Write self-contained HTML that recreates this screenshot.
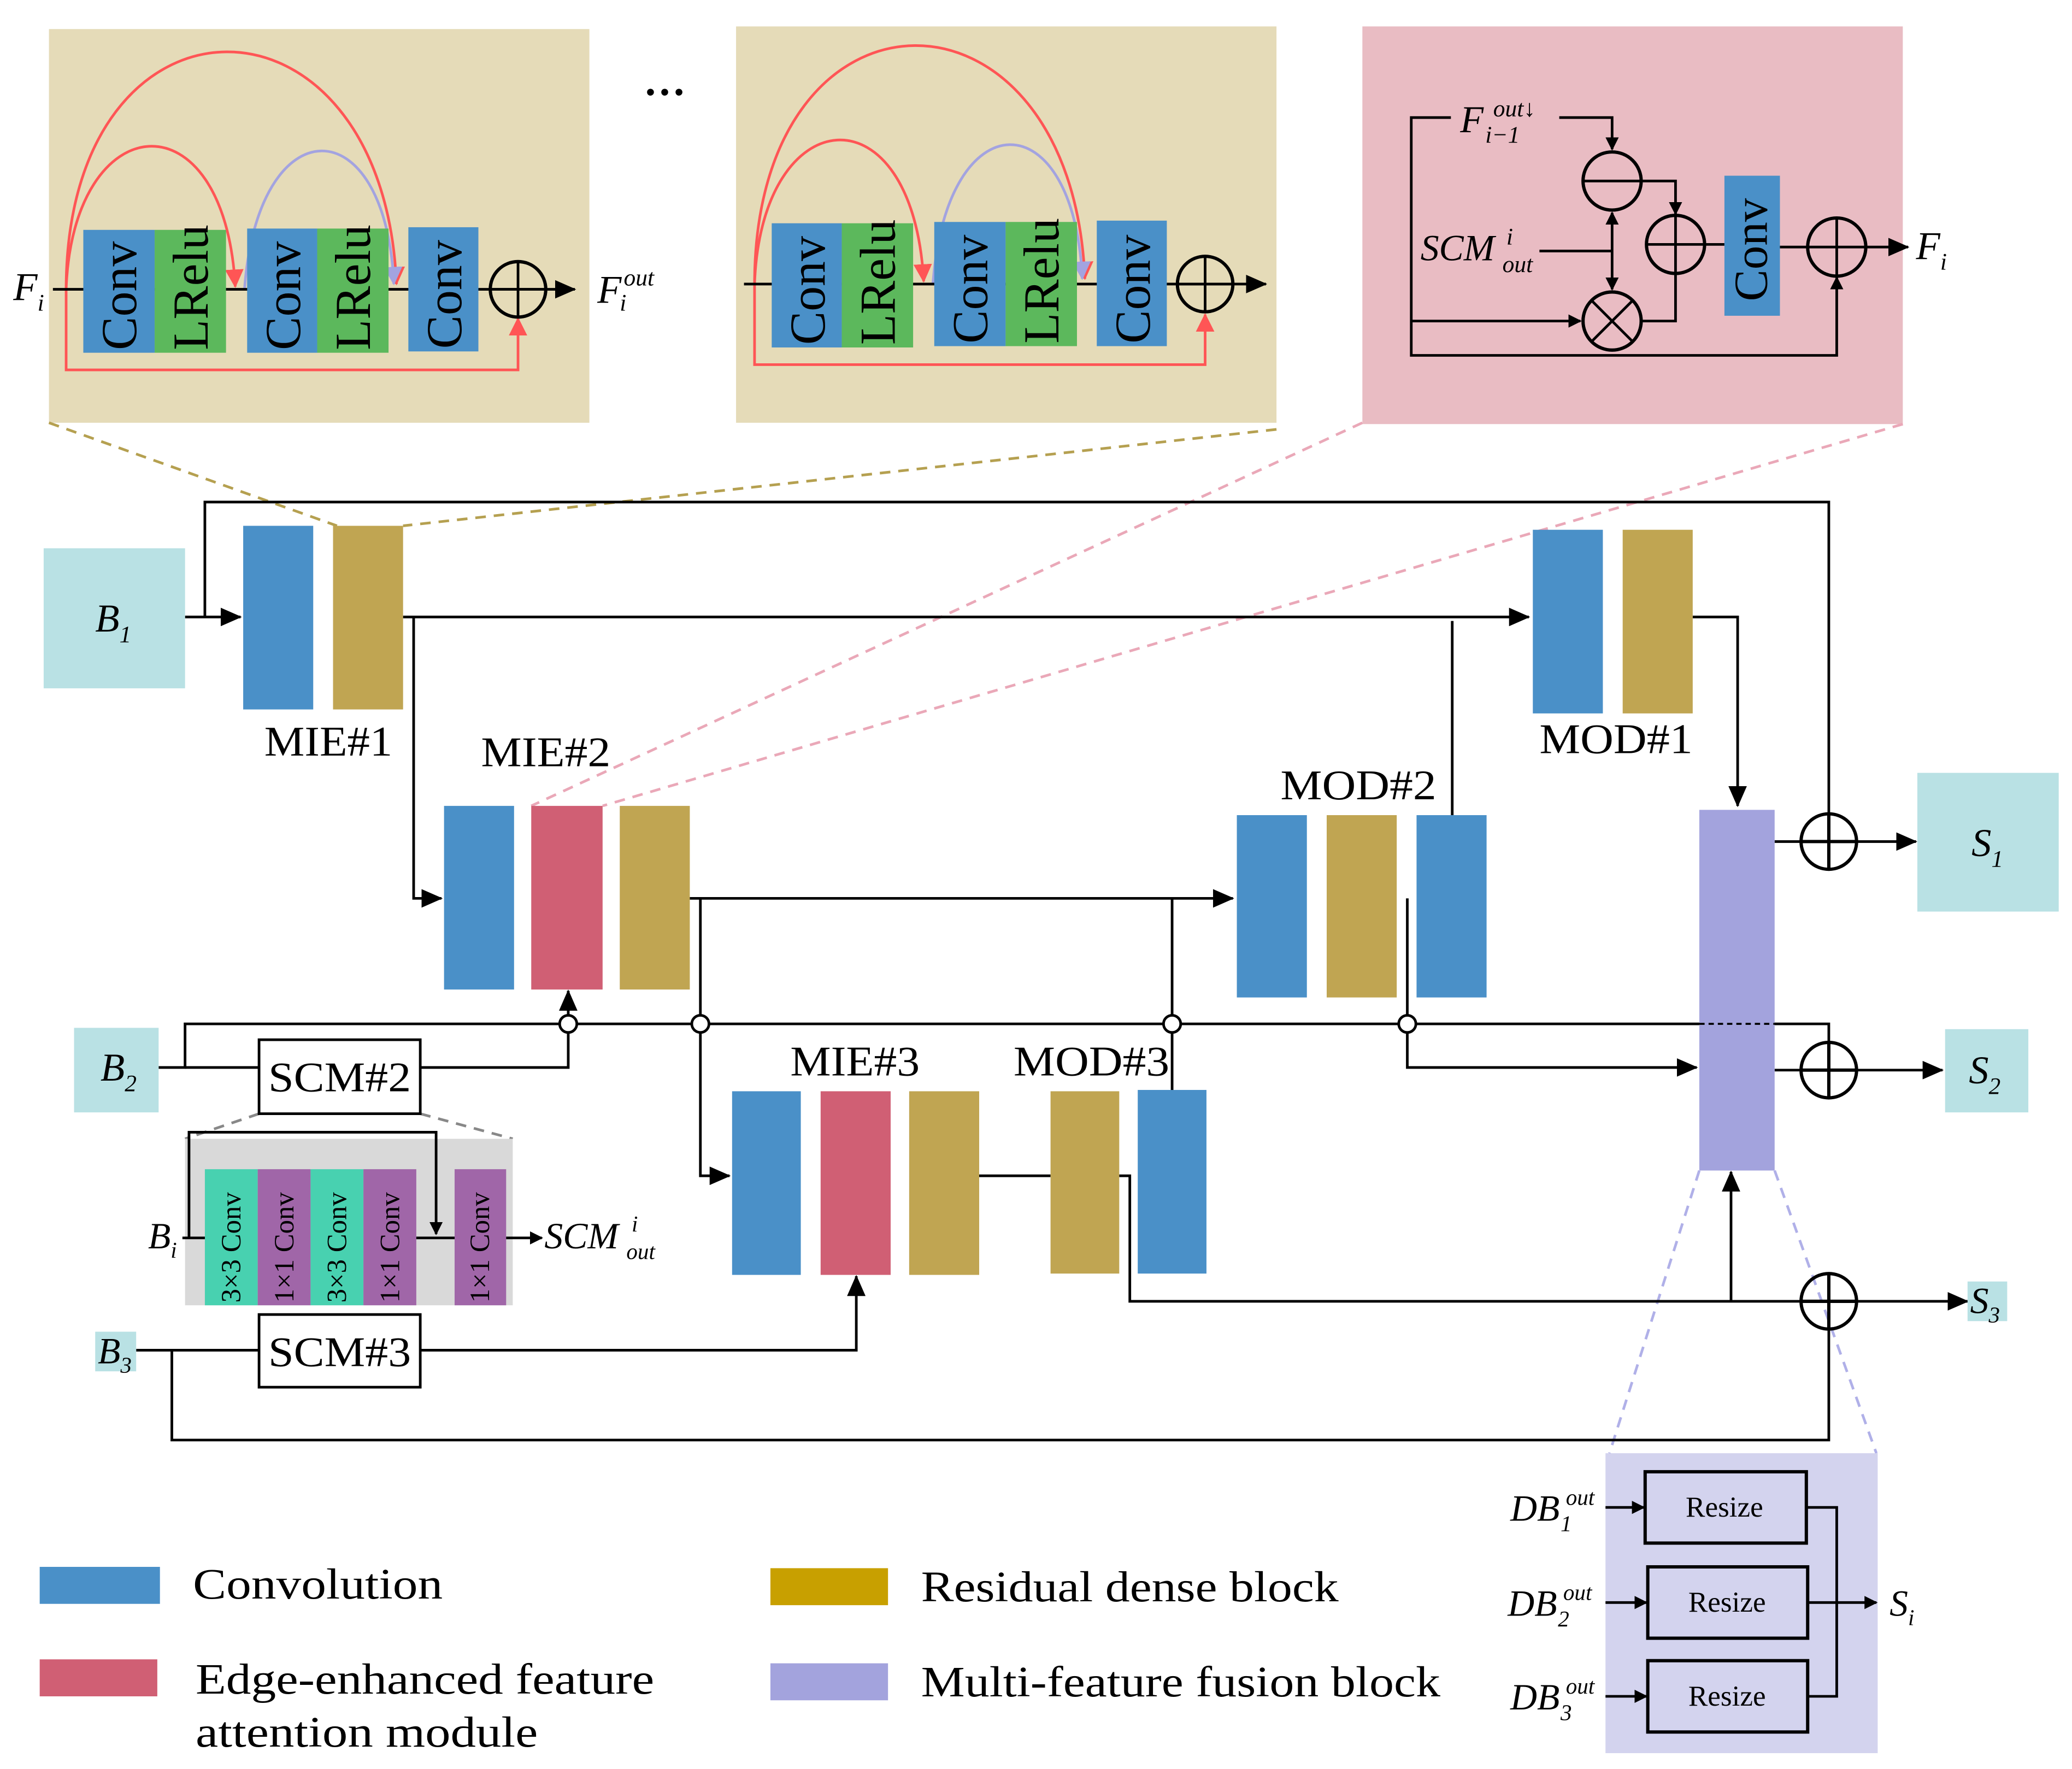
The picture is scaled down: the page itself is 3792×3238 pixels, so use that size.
<!DOCTYPE html>
<html><head><meta charset="utf-8"><style>
html,body{margin:0;padding:0;background:#fff}
svg{display:block}
text{font-family:"Liberation Serif",serif}
</style></head><body>
<svg width="3792" height="3238" viewBox="0 0 1568 1339" xmlns="http://www.w3.org/2000/svg">
<defs>
<marker id="a" markerWidth="10" markerHeight="10" refX="9" refY="5" orient="auto" markerUnits="userSpaceOnUse"><path d="M0,0L10,5L0,10z" fill="#000"/></marker>
<marker id="ab" markerWidth="16" markerHeight="14" refX="15" refY="7" orient="auto" markerUnits="userSpaceOnUse"><path d="M0,0L16,7L0,14z" fill="#000"/></marker>
<marker id="r" markerWidth="14" markerHeight="14" refX="13" refY="7" orient="auto" markerUnits="userSpaceOnUse"><path d="M0,0L14,7L0,14z" fill="#f55"/></marker>
<marker id="p" markerWidth="14" markerHeight="14" refX="13" refY="7" orient="auto" markerUnits="userSpaceOnUse"><path d="M0,0L14,7L0,14z" fill="#a3a3e0"/></marker>
</defs>

<!-- Panel 1 -->
<rect x="37" y="22" width="409" height="298" fill="#e5dbb8"/>
<g fill="none" stroke-width="2">
<path d="M50,219 C50,-20 290,-20 300,215" stroke="#f55" marker-end="url(#r)"/>
<path d="M50,219 C55,80 170,70 178,217" stroke="#f55" marker-end="url(#r)"/>
<path d="M185,219 C195,80 292,80 298,215" stroke="#a3a3e0" marker-end="url(#p)"/>
<path d="M50,219 L50,280 L392,280 L392,241" stroke="#f55" marker-end="url(#r)"/>
</g>
<line x1="40" y1="219" x2="435" y2="219" stroke="#000" stroke-width="2" marker-end="url(#ab)"/>
<rect x="63" y="174" width="54" height="93" fill="#4a90c8"/>
<rect x="117" y="174" width="54" height="93" fill="#5cb85c"/>
<rect x="187" y="173" width="53" height="94" fill="#4a90c8"/>
<rect x="240" y="173" width="54" height="94" fill="#5cb85c"/>
<rect x="309" y="172" width="53" height="94" fill="#4a90c8"/>
<g font-size="38" fill="#000">
<text transform="translate(103,265) rotate(-90)">Conv</text>
<text transform="translate(157,265) rotate(-90)">LRelu</text>
<text transform="translate(227,265) rotate(-90)">Conv</text>
<text transform="translate(280,265) rotate(-90)">LRelu</text>
<text transform="translate(349,264) rotate(-90)">Conv</text>
</g>
<circle cx="392" cy="219" r="21" fill="none" stroke="#000" stroke-width="2.5"/>
<line x1="371" y1="219" x2="413" y2="219" stroke="#000" stroke-width="2"/>
<line x1="392" y1="198" x2="392" y2="240" stroke="#000" stroke-width="2"/>
<text x="10" y="227" font-size="30" font-style="italic">F<tspan font-size="18" dy="8">i</tspan></text>
<text x="452" y="229" font-size="30" font-style="italic">F</text>
<text x="469" y="235" font-size="18" font-style="italic">i</text>
<text x="472" y="216" font-size="18" font-style="italic">out</text>

<text x="487" y="72" font-size="32" font-weight="bold">…</text>

<!-- Panel 2 -->
<rect x="557" y="20" width="409" height="300" fill="#e5dbb8"/>
<g fill="none" stroke-width="2">
<path d="M571,215 C571,-25 811,-25 821,211" stroke="#f55" marker-end="url(#r)"/>
<path d="M571,215 C576,75 691,65 699,213" stroke="#f55" marker-end="url(#r)"/>
<path d="M706,215 C716,75 813,75 819,211" stroke="#a3a3e0" marker-end="url(#p)"/>
<path d="M571,215 L571,276 L912,276 L912,238" stroke="#f55" marker-end="url(#r)"/>
</g>
<line x1="563" y1="215" x2="958" y2="215" stroke="#000" stroke-width="2" marker-end="url(#ab)"/>
<rect x="584" y="169" width="53" height="94" fill="#4a90c8"/>
<rect x="637" y="169" width="54" height="94" fill="#5cb85c"/>
<rect x="707" y="168" width="54" height="94" fill="#4a90c8"/>
<rect x="761" y="168" width="54" height="94" fill="#5cb85c"/>
<rect x="830" y="167" width="53" height="95" fill="#4a90c8"/>
<g font-size="38" fill="#000">
<text transform="translate(624,261) rotate(-90)">Conv</text>
<text transform="translate(677,261) rotate(-90)">LRelu</text>
<text transform="translate(747,260) rotate(-90)">Conv</text>
<text transform="translate(801,260) rotate(-90)">LRelu</text>
<text transform="translate(870,260) rotate(-90)">Conv</text>
</g>
<circle cx="912" cy="215" r="21" fill="none" stroke="#000" stroke-width="2.5"/>
<line x1="891" y1="215" x2="933" y2="215" stroke="#000" stroke-width="2"/>
<line x1="912" y1="194" x2="912" y2="236" stroke="#000" stroke-width="2"/>

<!-- Panel 3 -->
<rect x="1031" y="20" width="409" height="301" fill="#e9bcc3"/>
<g stroke="#000" stroke-width="2" fill="none">
<path d="M1180,89 L1220,89 L1220,113" marker-end="url(#a)"/>
<path d="M1165,190 L1220,190"/>
<path d="M1220,190 L1220,161" marker-end="url(#a)"/>
<path d="M1220,190 L1220,219" marker-end="url(#a)"/>
<path d="M1098,89 L1068,89 L1068,269 L1390,269 L1390,210" marker-end="url(#a)"/>
<path d="M1068,243 L1196,243" marker-end="url(#a)"/>
<path d="M1242,137 L1268,137 L1268,162" marker-end="url(#a)"/>
<path d="M1242,243 L1268,243 L1268,208"/>
<path d="M1291,185 L1305,185"/>
<path d="M1347,187 L1368,187"/>
<path d="M1412,187 L1444,187" marker-end="url(#ab)"/>
<circle cx="1220" cy="137" r="22" stroke-width="2.5"/>
<line x1="1198" y1="137" x2="1242" y2="137"/>
<circle cx="1220" cy="243" r="22" stroke-width="2.5"/>
<line x1="1205" y1="228" x2="1235" y2="258"/><line x1="1235" y1="228" x2="1205" y2="258"/>
<circle cx="1268" cy="185" r="22" stroke-width="2.5"/>
<line x1="1246" y1="185" x2="1290" y2="185"/><line x1="1268" y1="163" x2="1268" y2="207"/>
<circle cx="1390" cy="187" r="22" stroke-width="2.5"/>
<line x1="1368" y1="187" x2="1412" y2="187"/><line x1="1390" y1="165" x2="1390" y2="209"/>
</g>
<rect x="1305" y="133" width="42" height="106" fill="#4a90c8"/>
<text transform="translate(1337,228) rotate(-90)" font-size="36">Conv</text>
<g font-style="italic">
<text x="1105" y="100" font-size="29">F</text>
<text x="1124" y="108" font-size="18">i−1</text>
<text x="1130" y="88" font-size="18">out↓</text>
<text x="1075" y="197" font-size="28">SCM</text>
<text x="1137" y="206" font-size="18">out</text>
<text x="1140" y="185" font-size="18">i</text>
<text x="1450" y="196" font-size="30">F<tspan font-size="18" dy="8">i</tspan></text>
</g>

<!-- dashed zoom lines -->
<g fill="none" stroke-width="2" stroke-dasharray="8,6">
<path d="M37,320 L255,398" stroke="#b5a050"/>
<path d="M966,325 L305,398" stroke="#b5a050"/>
<path d="M1031,320 L402,610" stroke="#eaa8b8"/>
<path d="M1440,321 L456,610" stroke="#eaa8b8"/>
<path d="M1286,886 L1218,1100" stroke="#b0b0e8"/>
<path d="M1343,886 L1420,1100" stroke="#b0b0e8"/>
<path d="M196,843 L140,862" stroke="#888"/>
<path d="M318,843 L388,862" stroke="#888"/>
</g>

<!-- main connectors -->
<g stroke="#000" stroke-width="2" fill="none">
<path d="M155,467 L155,380 L1384,380 L1384,616"/>
<path d="M140,467 L182,467" marker-end="url(#ab)"/>
<path d="M305,467 L1157,467" marker-end="url(#ab)"/>
<path d="M313,467 L313,680 L334,680" marker-end="url(#ab)"/>
<path d="M522,680 L933,680" marker-end="url(#ab)"/>
<path d="M1099,470 L1099,617"/>
<path d="M1281,467 L1315,467 L1315,610" marker-end="url(#ab)"/>
<path d="M1343,637 L1363,637"/>
<path d="M1405,637 L1450,637" marker-end="url(#ab)"/>
<path d="M120,808 L140,808 L140,775 L1384,775 L1384,789"/>
<path d="M140,808 L196,808"/>
<path d="M318,808 L430,808 L430,750" marker-end="url(#ab)"/>
<path d="M530,680 L530,890 L552,890" marker-end="url(#ab)"/>
<path d="M741,890 L795,890"/>
<path d="M887,680 L887,826"/>
<path d="M1065,680 L1065,808 L1284,808" marker-end="url(#ab)"/>
<path d="M1343,810 L1363,810"/>
<path d="M1405,810 L1470,810" marker-end="url(#ab)"/>
<path d="M847,890 L855,890 L855,985 L1363,985"/>
<path d="M1405,985 L1489,985" marker-end="url(#ab)"/>
<path d="M1310,985 L1310,887" marker-end="url(#ab)"/>
<path d="M103,1022 L196,1022"/>
<path d="M318,1022 L648,1022 L648,966" marker-end="url(#ab)"/>
<path d="M130,1022 L130,1090 L1384,1090 L1384,1006"/>
</g>

<!-- main blocks -->
<rect x="33" y="415" width="107" height="106" fill="#b9e1e4"/>
<text x="72" y="478" font-size="30" font-style="italic">B<tspan font-size="18" dy="8">1</tspan></text>
<rect x="184" y="398" width="53" height="139" fill="#4a90c8"/>
<rect x="252" y="398" width="53" height="139" fill="#c0a552"/>
<rect x="1160" y="401" width="53" height="139" fill="#4a90c8"/>
<rect x="1228" y="401" width="53" height="139" fill="#c0a552"/>
<rect x="336" y="610" width="53" height="139" fill="#4a90c8"/>
<rect x="402" y="610" width="54" height="139" fill="#d05f74"/>
<rect x="469" y="610" width="53" height="139" fill="#c0a552"/>
<rect x="936" y="617" width="53" height="138" fill="#4a90c8"/>
<rect x="1004" y="617" width="53" height="138" fill="#c0a552"/>
<rect x="1072" y="617" width="53" height="138" fill="#4a90c8"/>
<rect x="554" y="826" width="52" height="139" fill="#4a90c8"/>
<rect x="621" y="826" width="53" height="139" fill="#d05f74"/>
<rect x="688" y="826" width="53" height="139" fill="#c0a552"/>
<rect x="795" y="826" width="52" height="138" fill="#c0a552"/>
<rect x="861" y="825" width="52" height="139" fill="#4a90c8"/>
<rect x="1286" y="613" width="57" height="273" fill="#a3a3dd"/>
<line x1="1286" y1="775" x2="1343" y2="775" stroke="#000" stroke-width="1.5" stroke-dasharray="4,3"/>

<g font-size="32">
<text x="200" y="572" textLength="97" lengthAdjust="spacingAndGlyphs">MIE#1</text>
<text x="364" y="580" textLength="98" lengthAdjust="spacingAndGlyphs">MIE#2</text>
<text x="1165" y="570" textLength="116" lengthAdjust="spacingAndGlyphs">MOD#1</text>
<text x="969" y="605" textLength="118" lengthAdjust="spacingAndGlyphs">MOD#2</text>
<text x="598" y="814" textLength="98" lengthAdjust="spacingAndGlyphs">MIE#3</text>
<text x="767" y="814" textLength="118" lengthAdjust="spacingAndGlyphs">MOD#3</text>
</g>

<!-- circles -->
<g fill="#fff" stroke="#000" stroke-width="2">
<circle cx="430" cy="775" r="6.5"/><circle cx="530" cy="775" r="6.5"/>
<circle cx="887" cy="775" r="6.5"/><circle cx="1065" cy="775" r="6.5"/>
</g>
<g fill="none" stroke="#000" stroke-width="2.5">
<circle cx="1384" cy="637" r="21"/><line x1="1363" y1="637" x2="1405" y2="637"/><line x1="1384" y1="616" x2="1384" y2="658"/>
<circle cx="1384" cy="810" r="21"/><line x1="1363" y1="810" x2="1405" y2="810"/><line x1="1384" y1="789" x2="1384" y2="831"/>
<circle cx="1384" cy="985" r="21"/><line x1="1363" y1="985" x2="1405" y2="985"/><line x1="1384" y1="964" x2="1384" y2="1006"/>
</g>

<rect x="1451" y="585" width="107" height="105" fill="#b9e1e4"/>
<text x="1492" y="648" font-size="30" font-style="italic">S<tspan font-size="18" dy="8">1</tspan></text>
<rect x="56" y="778" width="64" height="64" fill="#b9e1e4"/>
<text x="76" y="818" font-size="30" font-style="italic">B<tspan font-size="18" dy="8">2</tspan></text>
<rect x="1472" y="779" width="63" height="63" fill="#b9e1e4"/>
<text x="1490" y="820" font-size="30" font-style="italic">S<tspan font-size="18" dy="8">2</tspan></text>
<rect x="1489" y="970" width="30" height="30" fill="#b9e1e4"/>
<text x="1491" y="994" font-size="28" font-style="italic">S<tspan font-size="17" dy="7">3</tspan></text>
<rect x="72" y="1008" width="31" height="30" fill="#b9e1e4"/>
<text x="74" y="1032" font-size="28" font-style="italic">B<tspan font-size="17" dy="7">3</tspan></text>

<rect x="196" y="787" width="122" height="56" fill="#fff" stroke="#000" stroke-width="2"/>
<text x="203" y="826" font-size="32" textLength="108" lengthAdjust="spacingAndGlyphs">SCM#2</text>
<rect x="196" y="995" width="122" height="55" fill="#fff" stroke="#000" stroke-width="2"/>
<text x="203" y="1034" font-size="32" textLength="108" lengthAdjust="spacingAndGlyphs">SCM#3</text>

<!-- SCM detail -->
<rect x="140" y="862" width="248" height="126" fill="#d9d9d9"/>
<rect x="155" y="885" width="40" height="103" fill="#48d1b0"/>
<rect x="195" y="885" width="40" height="103" fill="#a066a8"/>
<rect x="235" y="885" width="40" height="103" fill="#48d1b0"/>
<rect x="275" y="885" width="40" height="103" fill="#a066a8"/>
<rect x="344" y="885" width="39" height="103" fill="#a066a8"/>
<g font-size="21">
<text transform="translate(182,986) rotate(-90)">3×3 Conv</text>
<text transform="translate(222,986) rotate(-90)">1×1 Conv</text>
<text transform="translate(262,986) rotate(-90)">3×3 Conv</text>
<text transform="translate(302,986) rotate(-90)">1×1 Conv</text>
<text transform="translate(370,986) rotate(-90)">1×1 Conv</text>
</g>
<g stroke="#000" stroke-width="2" fill="none">
<path d="M138,937 L155,937"/>
<path d="M143,937 L143,857 L330,857 L330,934" marker-end="url(#a)"/>
<path d="M315,937 L344,937"/>
<path d="M383,937 L410,937" marker-end="url(#a)"/>
</g>
<g font-style="italic">
<text x="112" y="945" font-size="28">B<tspan font-size="17" dy="7">i</tspan></text>
<text x="412" y="945" font-size="28">SCM</text>
<text x="474" y="953" font-size="17">out</text>
<text x="478" y="932" font-size="17">i</text>
</g>

<!-- Fusion detail -->
<rect x="1215" y="1100" width="206" height="227" fill="#d3d3ee"/>
<g fill="none" stroke="#000" stroke-width="2.5">
<rect x="1245" y="1114" width="122" height="54"/>
<rect x="1247" y="1186" width="121" height="54"/>
<rect x="1247" y="1257" width="121" height="54"/>
</g>
<g font-size="22" text-anchor="middle">
<text x="1305" y="1148">Resize</text>
<text x="1307" y="1220">Resize</text>
<text x="1307" y="1291">Resize</text>
</g>
<g stroke="#000" stroke-width="2" fill="none">
<path d="M1215,1141 L1244,1141" marker-end="url(#a)"/>
<path d="M1215,1213 L1246,1213" marker-end="url(#a)"/>
<path d="M1215,1284 L1246,1284" marker-end="url(#a)"/>
<path d="M1367,1141 L1390,1141 L1390,1284 L1368,1284"/>
<path d="M1368,1213 L1420,1213" marker-end="url(#a)"/>
</g>
<g font-style="italic">
<text x="1143" y="1151" font-size="28">DB</text><text x="1181" y="1159" font-size="17">1</text><text x="1185" y="1139" font-size="17">out</text>
<text x="1141" y="1223" font-size="28">DB</text><text x="1179" y="1231" font-size="17">2</text><text x="1183" y="1211" font-size="17">out</text>
<text x="1143" y="1294" font-size="28">DB</text><text x="1181" y="1302" font-size="17">3</text><text x="1185" y="1282" font-size="17">out</text>
<text x="1430" y="1223" font-size="28">S<tspan font-size="17" dy="7">i</tspan></text>
</g>

<!-- Legend -->
<rect x="30" y="1186" width="91" height="28" fill="#4a90c8"/>
<rect x="30" y="1256" width="89" height="28" fill="#d05f74"/>
<rect x="583" y="1187" width="89" height="28" fill="#c8a000"/>
<rect x="583" y="1259" width="89" height="28" fill="#a3a3dd"/>
<g font-size="33">
<text x="146" y="1210" textLength="189" lengthAdjust="spacingAndGlyphs">Convolution</text>
<text x="148" y="1282" textLength="347" lengthAdjust="spacingAndGlyphs">Edge-enhanced feature</text>
<text x="148" y="1322" textLength="259" lengthAdjust="spacingAndGlyphs">attention module</text>
<text x="697" y="1212" textLength="316" lengthAdjust="spacingAndGlyphs">Residual dense block</text>
<text x="697" y="1284" textLength="393" lengthAdjust="spacingAndGlyphs">Multi-feature fusion block</text>
</g>
</svg>
</body></html>
